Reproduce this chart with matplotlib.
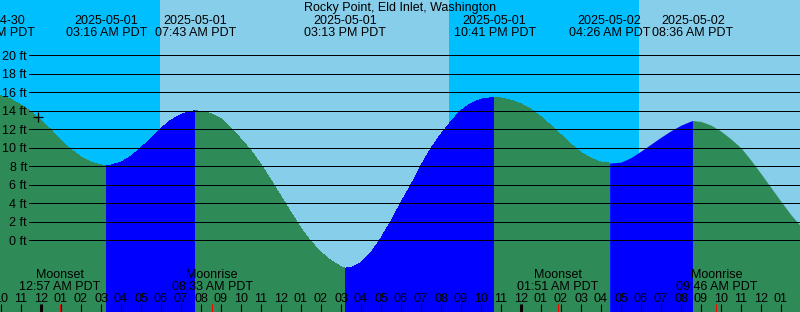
import numpy as np
import matplotlib
matplotlib.use('Agg')
import matplotlib.pyplot as plt
from matplotlib.transforms import blended_transform_factory

plt.rcParams['font.family'] = ['Liberation Sans', 'DejaVu Sans']
plt.rcParams['font.size'] = 9

title = 'Rocky Point, Eld Inlet, Washington'

# hours since 2025-05-01 00:00 PDT, tide height in feet
tide_hours = [-2.375, -2.0, -1.5, -1.0, -0.5, 0.0, 0.5, 1.0, 1.5, 2.0, 2.5, 3.0, 3.267,
              3.5, 4.0, 4.5, 5.0, 5.5, 6.0, 6.5, 7.0, 7.5, 7.717,
              8.0, 8.5, 9.0, 9.5, 10.0, 10.5, 11.0, 11.5, 12.0, 12.5, 13.0, 13.5,
              14.0, 14.5, 15.0, 15.217,
              15.5, 16.0, 16.5, 17.0, 17.5, 18.0, 18.5, 19.0, 19.5, 20.0, 20.5,
              21.0, 21.5, 22.0, 22.5, 22.683,
              23.0, 23.5, 24.0, 24.5, 25.0, 25.5, 26.0, 26.5, 27.0, 27.5, 28.0, 28.433,
              29.0, 29.5, 30.0, 30.5, 31.0, 31.5, 32.0, 32.5, 32.6,
              33.0, 33.5, 34.0, 34.5, 35.0, 35.5, 36.0, 36.5, 37.0, 37.5, 38.0]
tide_ft = [15.72, 15.63, 15.25, 14.62, 13.9, 12.95, 11.95, 10.75, 9.8, 9.0, 8.45, 8.15, 8.1,
           8.13, 8.45, 9.1, 10.0, 11.05, 12.1, 13.0, 13.6, 13.95, 14.0,
           13.95, 13.7, 13.15, 12.15, 10.95, 9.7, 8.2, 6.5, 4.75, 3.0, 1.3, -0.15,
           -1.3, -2.2, -2.85, -3.0,
           -2.95, -2.4, -1.35, 0.25, 2.1, 4.1, 6.0, 8.1, 9.95, 11.5, 12.85,
           14.05, 14.8, 15.25, 15.42, 15.45,
           15.38, 15.15, 14.75, 14.15, 13.35, 12.4, 11.4, 10.4, 9.5, 8.85, 8.45, 8.35,
           8.45, 8.95, 9.65, 10.4, 11.15, 11.85, 12.45, 12.9, 12.95,
           12.85, 12.45, 11.8, 10.95, 10.0, 8.65, 7.2, 5.7, 4.2, 2.75, 1.5]

# high / low tides
event_hours = [-2.375, 3.267, 7.717, 15.217, 22.683, 28.433, 32.6]
event_kind = ['high', 'low', 'high', 'low', 'high', 'low', 'high']
event_dates = ['2025-04-30', '2025-05-01', '2025-05-01', '2025-05-01',
               '2025-05-01', '2025-05-02', '2025-05-02']
event_times = ['09:38 PM PDT', '03:16 AM PDT', '07:43 AM PDT', '03:13 PM PDT',
               '10:41 PM PDT', '04:26 AM PDT', '08:36 AM PDT']

# moon rise / set
moon_hours = [0.95, 8.55, 25.85, 33.767]
moon_names = ['Moonset', 'Moonrise', 'Moonset', 'Moonrise']
moon_times = ['12:57 AM PDT', '08:33 AM PDT', '01:51 AM PDT', '09:46 AM PDT']

# sunrise / sunset edges
sky_edges = [-2.05, 5.925, 20.375, 29.875, 37.95]
sky_kind = ['night', 'day', 'night', 'day']

now_hour, now_ft = -0.16, 13.36
ft_levels = list(range(0, 21, 2))

W, H = 800, 312
fig = plt.figure(figsize=(W / 100, H / 100), dpi=100)
ax = fig.add_axes([0, 0, 1, 1])
ax.set_xlim(-2.05, 37.95)
ax.set_ylim(-7.75, 25.98)
ax.axis('off')

xd_ya = blended_transform_factory(ax.transData, ax.transAxes)
xa_yd = ax.get_yaxis_transform()

sky_col = {'night': '#00BFFF', 'day': '#87CEEB'}
for i, k in enumerate(sky_kind):
    ax.axvspan(sky_edges[i], sky_edges[i + 1], color=sky_col[k], lw=0, zorder=0)

# water, blue while rising, green while falling
th = np.array(tide_hours)
tf = np.array(tide_ft)
bounds = event_hours + [99.0]
for i in range(len(event_hours)):
    m = (th >= bounds[i]) & (th <= bounds[i + 1])
    col = '#0000FF' if event_kind[i] == 'low' else '#2E8B57'
    ax.fill_between(th[m], -20, tf[m], color=col, lw=0, zorder=1, antialiased=False)

ax.hlines(ft_levels, 29 / W, 1, transform=xa_yd, color='black', lw=0.7,
          antialiased=False, zorder=2)
for v in ft_levels:
    ax.text(27 / W, v, '%d ft' % v, transform=xa_yd, ha='right',
            va='center_baseline', zorder=3)

ax.plot([now_hour], [now_ft], marker='+', color='black', ms=7, mew=0.9, zorder=3)

# header
ax.text(0.5, 1 - 11 / H, title, transform=ax.transAxes, ha='center', va='baseline')
for h, d, t in zip(event_hours, event_dates, event_times):
    ax.text(h, 1 - 24 / H, d, transform=xd_ya, ha='center', va='baseline')
    ax.text(h, 1 - 36 / H, t, transform=xd_ya, ha='center', va='baseline')

# moon
for h, n, t in zip(moon_hours, moon_names, moon_times):
    ax.text(h, 1 - 278.3 / H, n, transform=xd_ya, ha='center', va='baseline')
    ax.text(h, 1 - 290 / H, t, transform=xd_ya, ha='center', va='baseline')

# hour ticks
tick_top = 8 / H
for h in range(-2, 38):
    lw = 2.2 if h % 24 == 0 else 0.8
    ax.vlines(h, 0, tick_top, transform=xd_ya, color='black', lw=lw, zorder=3)
    lab = '%02d' % ((h % 12) or 12)
    ax.text(h, 1 - 301.7 / H, lab, transform=xd_ya, ha='center', va='baseline')
ax.vlines(moon_hours, 0, tick_top, transform=xd_ya, color='red', lw=0.8, zorder=4)

fig.savefig('out.png', dpi=100)
